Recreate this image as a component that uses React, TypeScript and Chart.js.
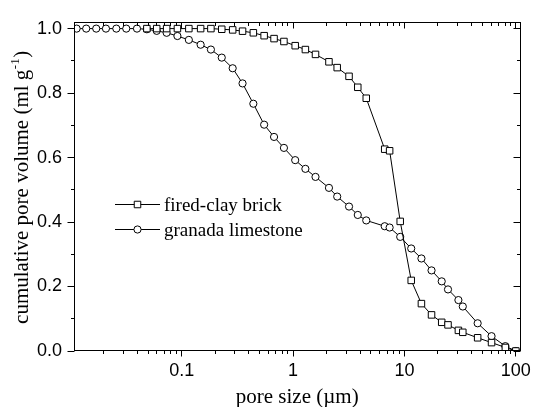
import React, { useEffect, useRef } from "react";
import { Chart, registerables } from "chart.js";

Chart.register(...registerables);

// Pore diameters (µm) shared by both mercury-intrusion curves
const poreSize = [
  0.0114, 0.0139, 0.0171, 0.0209, 0.0259, 0.0318, 0.0397, 0.0487, 0.0597, 0.0733,
  0.0916, 0.116, 0.148, 0.183, 0.229, 0.287, 0.352, 0.44, 0.55, 0.675,
  0.828, 1.045, 1.29, 1.59, 2.1, 2.49, 3.18, 3.81, 4.54, 6.65,
  7.36, 9.16, 11.5, 14.2, 17.5, 21.6, 24.6, 30.5, 33.4, 45.4,
  60.5, 80.5, 100,
];

// Normalised cumulative pore volume
const brickVolume = [
  null, null, null, null, null, null, null, 1.0, 1.0, 1.0,
  1.0, 1.0, 1.0, 1.0, 0.998, 0.996, 0.992, 0.987, 0.978, 0.969,
  0.96, 0.947, 0.935, 0.92, 0.897, 0.879, 0.852, 0.818, 0.784, 0.626,
  0.621, 0.402, 0.219, 0.147, 0.112, 0.089, 0.081, 0.064, 0.058, 0.041,
  0.026, 0.011, 0.0,
];

const limestoneVolume = [
  1.0, 1.0, 1.0, 1.0, 1.0, 1.0, 1.0, 0.998, 0.993, 0.987,
  0.977, 0.965, 0.95, 0.935, 0.91, 0.877, 0.83, 0.767, 0.702, 0.664,
  0.63, 0.592, 0.565, 0.54, 0.506, 0.479, 0.448, 0.422, 0.405, 0.387,
  0.383, 0.354, 0.318, 0.287, 0.25, 0.216, 0.191, 0.158, 0.138, 0.086,
  0.046, 0.015, 0.0,
];

const seriesLabels = ["fired-clay brick", "granada limestone"];
const xTickValues = [0.1, 1, 10, 100];
const yTickValues = [0, 0.2, 0.4, 0.6, 0.8, 1.0];
const xTitle = "pore size (µm)";
const yTitleMain = "cumulative pore volume (ml g";
const yTitleSup = "-1";
const yTitleEnd = ")";

const SANS = '"Liberation Sans", Arial, Helvetica, sans-serif';
const SERIF = '"Liberation Serif", "Times New Roman", Times, serif';

const SQUARE_R = 4.6;
const CIRCLE_R = 3.6;

function drawMarker(ctx: CanvasRenderingContext2D, style: string, r: number, cx: number, cy: number) {
  ctx.beginPath();
  if (style === "rect") {
    const s = r * Math.SQRT1_2;
    ctx.rect(cx - s, cy - s, 2 * s, 2 * s);
  } else {
    ctx.arc(cx, cy, r, 0, Math.PI * 2);
  }
  ctx.fillStyle = "#fff";
  ctx.fill();
  ctx.strokeStyle = "#000";
  ctx.lineWidth = 1;
  ctx.stroke();
}

// Box frame, mirrored ticks, axis titles and the in-plot legend
const decorPlugin = {
  id: "decor",
  afterDraw(chart: any) {
    const { ctx, chartArea: a, scales } = chart;
    const xs = scales.x;
    const ys = scales.y;
    const L = Math.floor(a.left) + 0.5;
    const R = Math.ceil(a.right) - 0.5;
    const T = Math.floor(a.top) + 0.5;
    const B = Math.ceil(a.bottom) - 0.5;

    ctx.save();
    ctx.strokeStyle = "#000";
    ctx.lineWidth = 1;
    ctx.strokeRect(L, T, R - L, B - T);

    ctx.beginPath();
    // logarithmic x ticks: majors at decades, minors at 2..9
    const e0 = Math.floor(Math.log10(xs.min));
    const e1 = Math.ceil(Math.log10(xs.max));
    for (let e = e0; e <= e1; e++) {
      for (let m = 1; m <= 9; m++) {
        const v = m * Math.pow(10, e);
        if (v < xs.min || v > xs.max) continue;
        const px = Math.floor(xs.getPixelForValue(v)) + 0.5;
        const len = m === 1 ? 6 : 3.5;
        ctx.moveTo(px, B);
        ctx.lineTo(px, B + len);
        ctx.moveTo(px, T);
        ctx.lineTo(px, T + len);
      }
    }
    // y ticks every 0.1, majors every 0.2
    for (let i = 0; i <= 10; i++) {
      const py = Math.floor(ys.getPixelForValue(i / 10)) + 0.5;
      const len = i % 2 === 0 ? 7 : 3.5;
      ctx.moveTo(L - len, py);
      ctx.lineTo(L, py);
      ctx.moveTo(R - len, py);
      ctx.lineTo(R, py);
    }
    ctx.stroke();

    // x axis title
    ctx.fillStyle = "#000";
    ctx.font = `21px ${SERIF}`;
    ctx.textAlign = "center";
    ctx.textBaseline = "alphabetic";
    ctx.fillText(xTitle, (a.left + a.right) / 2, 402.5);

    // y axis title with superscript unit
    ctx.save();
    ctx.translate(27.5, (a.top + a.bottom) / 2 + 1);
    ctx.rotate(-Math.PI / 2);
    ctx.textAlign = "left";
    ctx.font = `21px ${SERIF}`;
    const w1 = ctx.measureText(yTitleMain).width;
    const w3 = ctx.measureText(yTitleEnd).width;
    ctx.font = `13px ${SERIF}`;
    const w2 = ctx.measureText(yTitleSup).width;
    const start = -(w1 + w2 + w3) / 2;
    ctx.font = `21px ${SERIF}`;
    ctx.fillText(yTitleMain, start, 0);
    ctx.font = `13px ${SERIF}`;
    ctx.fillText(yTitleSup, start + w1 + 0.5, -9);
    ctx.font = `21px ${SERIF}`;
    ctx.fillText(yTitleEnd, start + w1 + w2 + 1, 0);
    ctx.restore();

    // legend
    const lx = a.left + 41;
    chart.data.datasets.forEach((ds: any, i: number) => {
      const yy = 204 + i * 25;
      ctx.beginPath();
      ctx.strokeStyle = "#000";
      ctx.lineWidth = 1;
      ctx.moveTo(lx, yy + 0.5);
      ctx.lineTo(lx + 45, yy + 0.5);
      ctx.stroke();
      drawMarker(ctx, ds.pointStyle, ds.pointRadius, lx + 22.5, yy + 0.5);
      ctx.fillStyle = "#000";
      ctx.font = `19px ${SERIF}`;
      ctx.textAlign = "left";
      ctx.textBaseline = "alphabetic";
      ctx.fillText(ds.label, lx + 49, yy + 6.5);
    });
    ctx.restore();
  },
};

export default function App() {
  const canvasRef = useRef<HTMLCanvasElement | null>(null);

  useEffect(() => {
    const canvas = canvasRef.current;
    if (!canvas) return;

    const toPoints = (ys: (number | null)[]) =>
      poreSize.map((x, i) => ({ x, y: ys[i] }));

    const common = {
      borderColor: "#000",
      borderWidth: 1,
      pointBorderColor: "#000",
      pointBackgroundColor: "#fff",
      pointBorderWidth: 1,
      fill: false,
      tension: 0,
      spanGaps: false,
    };

    const chart = new Chart(canvas, {
      type: "line",
      data: {
        datasets: [
          {
            ...common,
            label: seriesLabels[0],
            data: toPoints(brickVolume),
            pointStyle: "rect",
            pointRadius: SQUARE_R,
            pointHoverRadius: SQUARE_R,
          },
          {
            ...common,
            label: seriesLabels[1],
            data: toPoints(limestoneVolume),
            pointStyle: "circle",
            pointRadius: CIRCLE_R,
            pointHoverRadius: CIRCLE_R,
          },
        ] as any,
      },
      options: {
        responsive: false,
        animation: false,
        events: [],
        layout: { padding: { top: 17, right: 13, left: 0, bottom: 0 } },
        plugins: {
          legend: { display: false },
          tooltip: { enabled: false },
          title: { display: false },
        },
        scales: {
          x: {
            type: "logarithmic",
            min: 0.0108,
            max: 110,
            grid: { display: false, drawTicks: false, tickLength: 0 },
            border: { display: false },
            afterBuildTicks: (scale: any) => {
              scale.ticks = xTickValues.map((value) => ({ value }));
            },
            afterFit: (scale: any) => {
              scale.height = 56;
            },
            ticks: {
              autoSkip: false,
              maxRotation: 0,
              padding: 9,
              color: "#000",
              font: { family: SANS, size: 18 },
              callback: (value: any) => String(value),
            },
          },
          y: {
            type: "linear",
            min: 0,
            max: 1.018,
            grid: { display: false, drawTicks: false, tickLength: 0 },
            border: { display: false },
            afterBuildTicks: (scale: any) => {
              scale.ticks = yTickValues.map((value) => ({ value }));
            },
            afterFit: (scale: any) => {
              scale.width = 74;
            },
            ticks: {
              padding: 12,
              color: "#000",
              font: { family: SANS, size: 18 },
              callback: (value: any) => Number(value).toFixed(1),
            },
          },
        },
      } as any,
      plugins: [decorPlugin],
    });

    return () => chart.destroy();
  }, []);

  return (
    <div style={{ position: "absolute", left: 0, top: 0, width: 540, height: 407, background: "#fff" }}>
      <canvas ref={canvasRef} width={540} height={407} />
    </div>
  );
}
